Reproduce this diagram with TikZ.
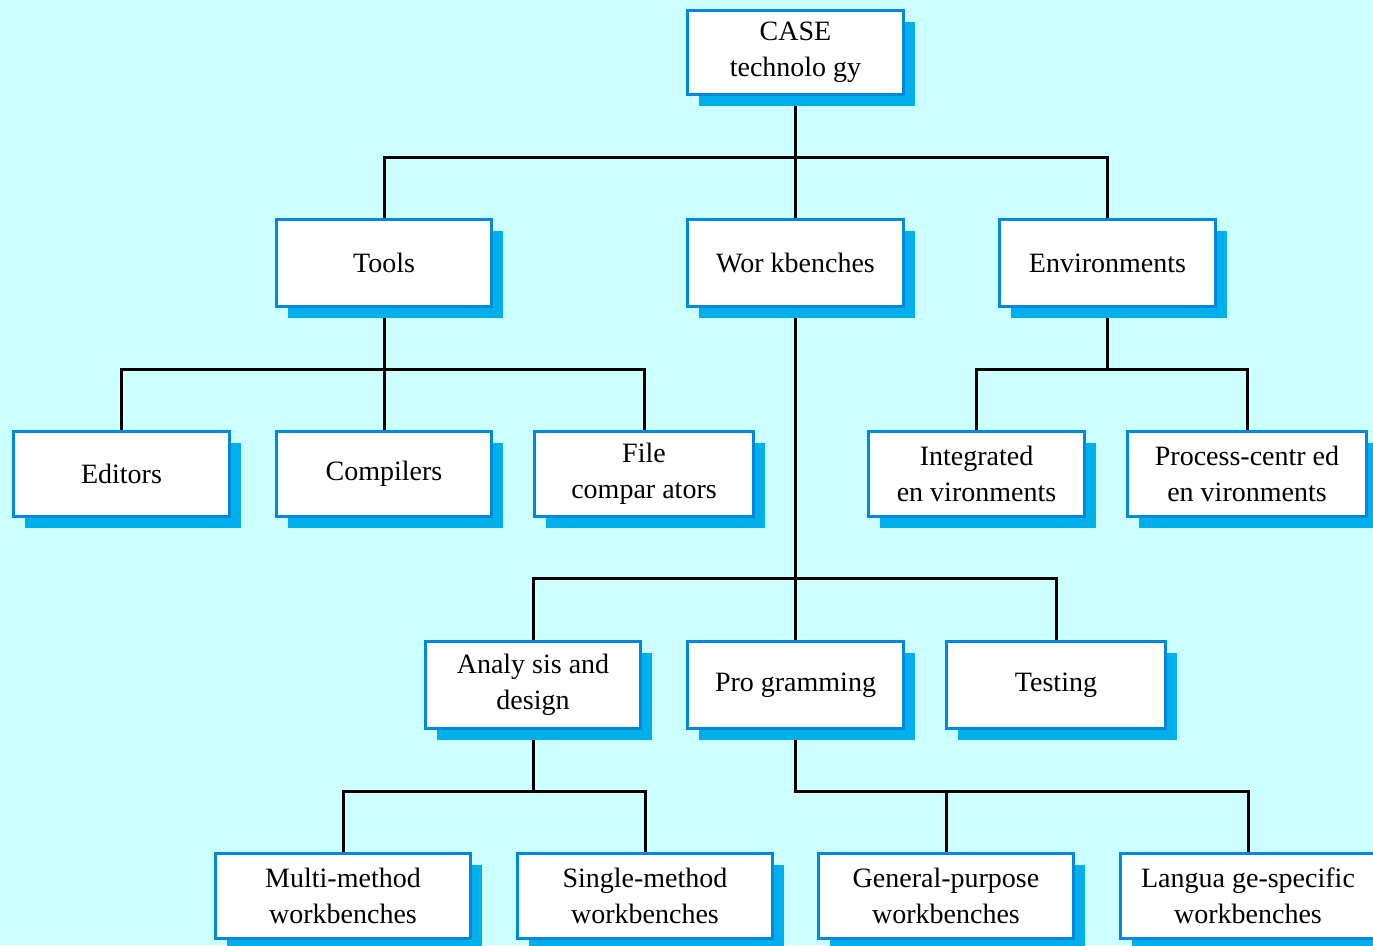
\documentclass[tikz,border=0pt]{standalone}
\usepackage{fontspec}
\setmainfont{Liberation Serif}
\usetikzlibrary{shadows,backgrounds}
\definecolor{bgcyan}{RGB}{204,255,255}
\definecolor{boxblue}{RGB}{0,136,221}
\definecolor{shadowblue}{RGB}{0,176,234}
\tikzset{
  box/.style={draw=boxblue, line width=3pt, fill=white, align=center,
    inner sep=0pt, font=\fontsize{28}{36}\selectfont,
    drop shadow={shadow xshift=11pt, shadow yshift=-11pt, fill=shadowblue, opacity=1}},
  conn/.style={draw=black, line width=3pt}
}
\begin{document}
\begin{tikzpicture}[x=1pt,y=-1pt]
\useasboundingbox (0,0) rectangle (1373,945);
% nodes
\node[box, minimum width=216pt, minimum height=84pt] (case) at (795.5,52.5) {CASE\\technolo gy};
\node[box, minimum width=215pt, minimum height=87pt] (tools) at (384,263) {Tools};
\node[box, minimum width=216pt, minimum height=87pt] (work) at (795.5,263) {Wor kbenches};
\node[box, minimum width=216pt, minimum height=87pt] (env) at (1107.5,263) {Environments};
\node[box, minimum width=216pt, minimum height=85pt] (editors) at (121.5,474) {Editors};
\node[box, minimum width=215pt, minimum height=85pt] (compilers) at (384,474) {Compilers};
\node[box, minimum width=219pt, minimum height=85pt] (filecomp) at (644,474) {File\\compar ators};
\node[box, minimum width=216pt, minimum height=85pt] (integ) at (976.5,474) {Integrated\\en vironments};
\node[box, minimum width=239pt, minimum height=85pt] (process) at (1247,474) {Process-centr ed\\en vironments};
\node[box, minimum width=215pt, minimum height=87pt] (analysis) at (533,685) {Analy sis and\\design};
\node[box, minimum width=216pt, minimum height=87pt] (prog) at (795.5,685) {Pro gramming};
\node[box, minimum width=219pt, minimum height=87pt] (testing) at (1056,685) {Testing};
\node[box, minimum width=255pt, minimum height=85pt] (multi) at (343,896) {Multi-method\\workbenches};
\node[box, minimum width=255pt, minimum height=85pt] (single) at (645,896) {Single-method\\workbenches};
\node[box, minimum width=255pt, minimum height=85pt] (general) at (946,896) {General-purpose\\workbenches};
\node[box, minimum width=255pt, minimum height=85pt] (lang) at (1248,896) {Langua ge-specific\\workbenches};
% connectors (drawn behind boxes)
\begin{scope}[on background layer]
\fill[bgcyan] (0,0) rectangle (1373,945);
% CASE -> Tools, Workbenches, Environments
\draw[conn] (case.south) -- (case.south |- 0,157);
\draw[conn] (tools.north) |- (env.north |- 0,157) -- (env.north);
\draw[conn] (work.north) -- (work.north |- 0,157);
% Tools -> Editors, Compilers, File comparators
\draw[conn] (tools.south) -- (compilers.north);
\draw[conn] (editors.north) |- (filecomp.north |- 0,369) -- (filecomp.north);
% Environments -> Integrated, Process-centred
\draw[conn] (env.south) -- (env.south |- 0,369);
\draw[conn] (integ.north) |- (process.north |- 0,369) -- (process.north);
% Workbenches -> Analysis, Programming, Testing
\draw[conn] (work.south) -- (prog.north);
\draw[conn] (analysis.north) |- (testing.north |- 0,578) -- (testing.north);
% Analysis -> Multi, Single
\draw[conn] (analysis.south) -- (analysis.south |- 0,791);
\draw[conn] (multi.north) |- (single.north |- 0,791) -- (single.north);
% Programming -> General, Language
\draw[conn] (prog.south) |- (lang.north |- 0,791) -- (lang.north);
\draw[conn] (general.north) -- (general.north |- 0,791);
\end{scope}
\end{tikzpicture}
\end{document}
